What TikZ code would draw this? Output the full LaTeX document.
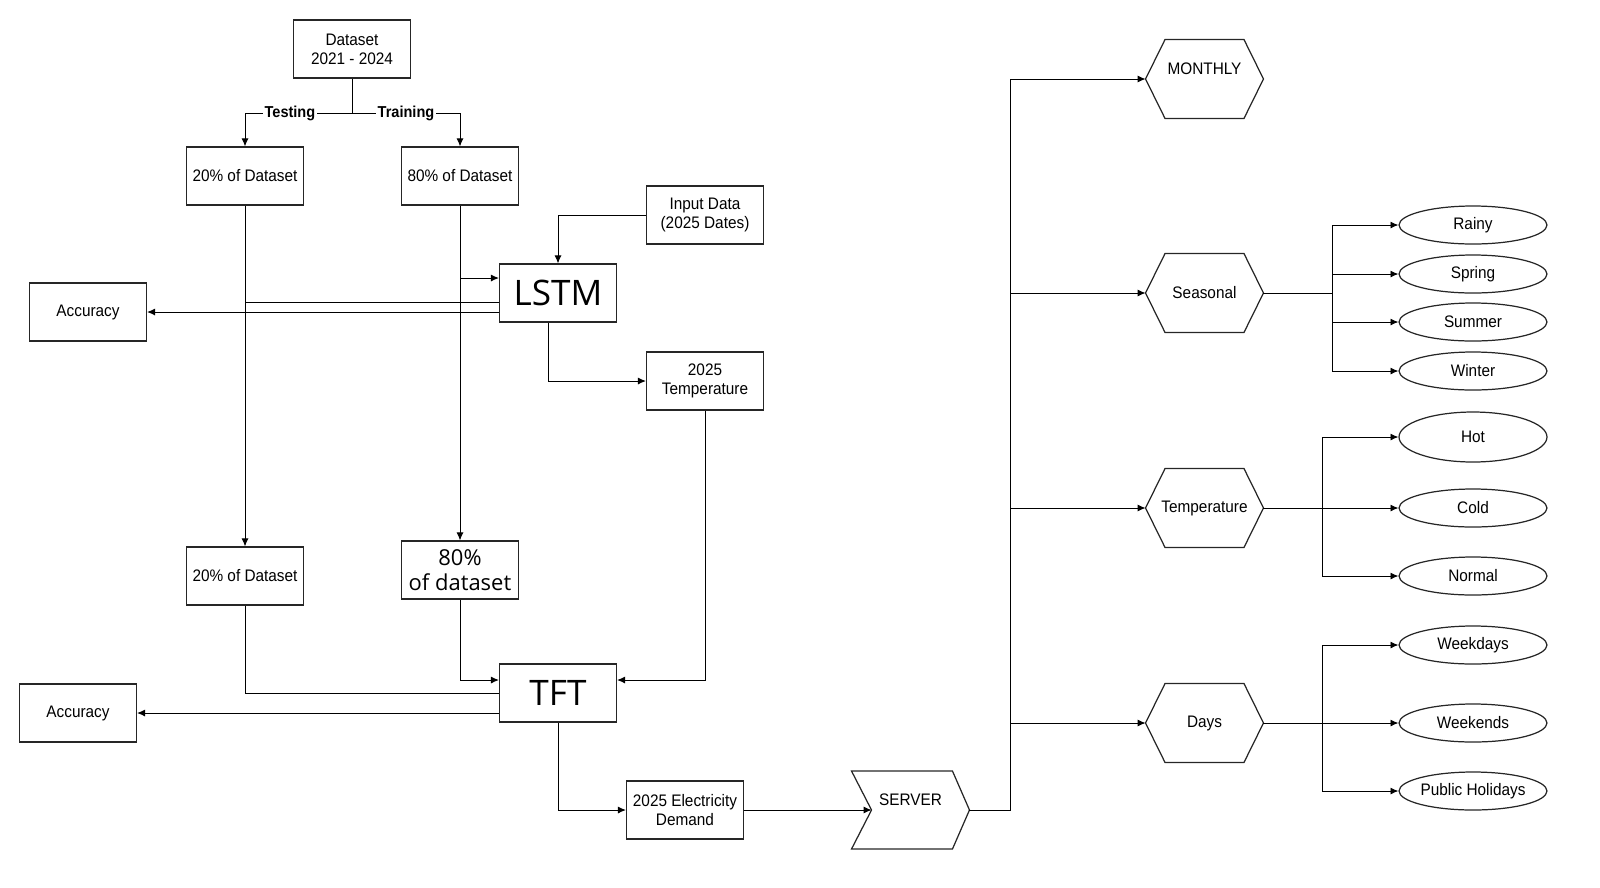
\documentclass[tikz,border=0pt]{standalone}
\usepackage{fontspec}
\setmainfont{Liberation Sans}[FakeStretch=0.92]
\newfontfamily\bigfont{Open Sans}
\usetikzlibrary{arrows.meta,shapes.geometric}

\begin{document}
\begin{tikzpicture}[x=0.02cm,y=-0.02cm,line width=0.55pt,
  font=\fontsize{9.5}{11}\selectfont,
  box/.style={draw=black!85,line width=0.7pt,minimum width=2.34cm,minimum height=1.16cm,align=center,inner sep=1pt},
  hexa/.style={minimum width=2.34cm,minimum height=1.56cm,inner sep=0pt},
  oval/.style={draw=black!85,ellipse,line width=0.7pt,minimum width=2.96cm,minimum height=0.76cm,inner sep=0pt,inner xsep=-8pt},
  arr/.style={-{Latex[length=4.5pt,width=4pt]}},
  tag/.style={fill=white,inner sep=1pt,font=\fontsize{9}{10}\selectfont\bfseries}]
  \useasboundingbox (0,0) rectangle (1600,887);
  % training side
  \node[box] (ds) at (352,49) {Dataset\\2021 - 2024};
  \node[box] (t20) at (245,176) {20\% of Dataset};
  \node[box] (e80) at (460,176) {80\% of Dataset};
  \node[box] (inp) at (705,215) {Input Data\\(2025 Dates)};
  \node[box,font=\bigfont\fontsize{20}{22}\selectfont] (lstm) at (558,293) {LSTM};
  \node[box] (acc1) at (88,312) {Accuracy};
  \node[box] (t25) at (705,381) {2025\\Temperature};
  \node[box] (t20b) at (245,576) {20\% of Dataset};
  \node[box,font=\bigfont\fontsize{12.5}{14}\selectfont] (e80b) at (460,570) {80\%\\of dataset};
  \node[box,font=\bigfont\fontsize{20}{22}\selectfont] (tft) at (558,693) {TFT};
  \node[box] (acc2) at (78,713) {Accuracy};
  \node[box] (dem) at (685,810) {2025 Electricity\\Demand};
  \node[hexa,minimum height=1.54cm,text depth=0.42cm] (srv) at (910.5,810) {SERVER};
  \draw[black!85,line width=0.7pt] (srv.north west) -- ([xshift=-0.34cm]srv.north east) -- (srv.east)
    -- ([xshift=-0.34cm]srv.south east) -- (srv.south west) -- ([xshift=0.4cm]srv.west) coordinate (srvin) -- cycle;

  \coordinate (split) at (352,113);
  \draw (ds.south) -- (split);
  \draw[arr] (split) -| node[tag,pos=0.29]{Testing} (t20.north);
  \draw[arr] (split) -| node[tag,pos=0.25]{Training} (e80.north);
  \draw[arr] (inp.west) -| (lstm.north);
  \coordinate (j80) at (460,278);
  \coordinate (j20) at (245,302);
  \draw[arr] (e80.south) -- (e80b.north);
  \draw[arr] (j80) -- (j80 -| lstm.west);
  \draw[arr] (t20.south) -- (t20b.north);
  \draw (j20) -- (j20 -| lstm.west);
  \draw[arr] (lstm.west |- acc1) -- (acc1.east);
  \draw[arr] ([xshift=-0.2cm]lstm.south) |- (t25.west);
  \draw[arr] (t25.south) |- ([yshift=0.26cm]tft.east);
  \draw[arr] (e80b.south) |- ([yshift=0.26cm]tft.west);
  \draw (t20b.south) |- (tft.west);
  \draw[arr] (tft.west |- acc2) -- (acc2.east);
  \draw[arr] (tft.south) |- (dem.west);
  \draw[arr] (dem.east) -- (srvin);

  % categories
  \node[hexa,text depth=0.4cm] (hmon) at (1204.5,79) {MONTHLY};
  \node[hexa] (hsea) at (1204.5,293) {Seasonal};
  \node[hexa] (htem) at (1204.5,508) {Temperature};
  \node[hexa] (hday) at (1204.5,723) {Days};
  \foreach \h in {hmon,hsea,htem,hday}
    \draw[black!85,line width=0.7pt] ([xshift=0.39cm]\h.north west) -- ([xshift=-0.39cm]\h.north east) -- (\h.east)
      -- ([xshift=-0.39cm]\h.south east) -- ([xshift=0.39cm]\h.south west) -- (\h.west) -- cycle;
  \foreach \n/\y/\t in {rainy/225/Rainy,spring/274/Spring,summer/322/Summer,winter/371/Winter,
      cold/508/Cold,normal/576/Normal,wkd/645/Weekdays,wke/723/Weekends,hol/791/Public Holidays}
    \node[oval] (\n) at (1473,\y) {\t};
  \node[oval,minimum height=1cm] (hot) at (1473,437) {Hot};

  \coordinate (bus) at (1010,810);
  \draw[arr] (srv.east) -- (bus) |- (hmon.west);
  \foreach \h in {hsea,htem,hday}
    \draw[arr] (bus |- \h.west) -- (\h.west);
  \coordinate (ks) at (1332,293);
  \coordinate (kt) at (1322,508);
  \coordinate (kd) at (1322,723);
  \draw (hsea.east) -- (ks);
  \draw (htem.east) -- (kt);
  \draw (hday.east) -- (kd);
  \foreach \e in {rainy,spring,summer,winter}
    \draw[arr] (ks) |- (\e.west);
  \foreach \e in {hot,cold,normal}
    \draw[arr] (kt) |- (\e.west);
  \foreach \e in {wkd,wke,hol}
    \draw[arr] (kd) |- (\e.west);
\end{tikzpicture}
\end{document}
